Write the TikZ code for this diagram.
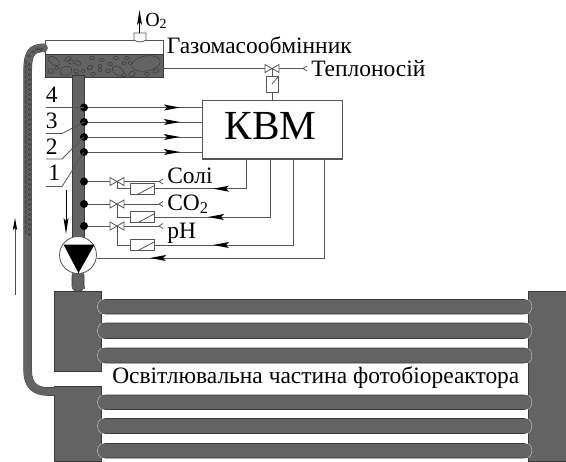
\documentclass[tikz,border=0pt]{standalone}
\usepackage{fontspec}
\setmainfont{Liberation Serif}
\definecolor{pipe}{HTML}{636363}
\definecolor{edge}{HTML}{3A3A3A}
\definecolor{ln}{HTML}{555555}
\tikzset{x=0.75pt,y=-0.75pt,
 thin line/.style={draw=ln,line width=0.6pt},
 sig/.style={draw=ln,line width=0.75pt},
 tube/.style={fill=pipe,draw=edge,line width=0.4pt,rounded corners=6pt},
 dotn/.style={circle,fill=black,inner sep=0,minimum size=6pt},
 lbl/.style={inner sep=0,anchor=base west,font=\fontsize{17.6}{19}\selectfont},
 blob/.style={draw=black!80,line width=0.3pt,fill=pipe}}
\newcommand{\vlv}[2]{\draw[thin line,fill=white] (#1-7,#2-4)--(#1+7,#2+4)--(#1+7,#2-4)--(#1-7,#2+4)--cycle;}
\newcommand{\atail}[2]{\fill[black] (#1,#2) -- (#1+16,#2-3) -- (#1+13,#2) -- (#1+16,#2+3) -- cycle;}
\newcommand{\ahead}[2]{\fill[black] (#1,#2) -- (#1-16,#2-3) -- (#1-13,#2) -- (#1-16,#2+3) -- cycle;}
\newcommand{\actuH}[2]{\draw[thin line,fill=white] (#1,#2-5.5) rectangle (#1+24,#2+5.5); \draw[thin line] (#1+8,#2+5.5) -- (#1+24,#2-3);}
\begin{document}
\begin{tikzpicture}
\useasboundingbox (0,0) rectangle (566,461);
% tubes reactor
\foreach \a/\b in {299.5/314,323/338.5,348/363,395/409.5,418.5/433.5,443.5/458}{
 \draw[tube] (97.5,\a) rectangle (532,\b);}
% tanks
\fill[pipe,draw=edge,line width=0.3pt] (54.5,291) rectangle (101.5,371.5);
\fill[pipe,draw=edge,line width=0.3pt] (54.5,386.5) rectangle (101.5,461.5);
\fill[pipe,draw=edge,line width=0.3pt] (528.5,291) rectangle (566.5,461.5);
\foreach \a/\b in {299.5/314,323/338.5,348/363,395/409.5,418.5/433.5,443.5/458}{
 \fill[pipe] (100,\a+.5) rectangle (104,\b-.5);
 \draw[white!55!pipe,line width=0.4pt] (101.5,\a) .. controls (96,\a+3) and (96,\b-3) .. (101.5,\b);
 \fill[pipe] (526,\a+.5) rectangle (530,\b-.5);
 \draw[white!55!pipe,line width=0.4pt] (528.5,\a) .. controls (533,\a+3) and (533,\b-3) .. (528.5,\b);
}
% exchanger
\draw[draw=ln,line width=0.7pt,fill=white] (45.5,40) rectangle (163,54);
\draw[draw=edge,line width=0.5pt,fill=pipe] (45.5,54) rectangle (163,77);
\foreach \x/\y/\a/\b/\r in {54/61/6.5/3.5/-35,68/59/3.5/2/20,71/62/3/2/-20,78/63/3.5/2/-30,92/58/2.5/1.5/0,102/60/2.5/1.5/0,116/58/2.5/1.5/0,127/58/2.5/1.5/0,146/63.5/14.5/7.5/10,51/71/3.5/2/-30,57/68/2/1.5/0,66/71/6/4.5/25,76/71/2.5/2/0,83/71/2/1.5/0,90/67.5/3/2/30,100/66/2/1.7/0,100/70/2/1.7/0,108/71/2.5/1.7/0,118/71/6.5/4/-35,124/63/2/1.5/0,130/63/2/1.5/0,124/75/2.5/1.5/0,132/74/3.5/2.5/20,147/74/2.5/1.5/0,156/71/3/2/30,110/64/2.5/1.5/0,93/74/2.5/1.5/0,77/75/2/1.5/0}{
 \draw[blob,rotate around={\r:(\x,\y)}] (\x,\y) ellipse[x radius=\a*0.75pt,y radius=\b*0.75pt];}
% left return pipe
\draw[edge,line width=6.4pt,line cap=butt] (45,48) .. controls (30,47) and (27.7,56) .. (27.7,70) -- (27.7,371) .. controls (27.7,385) and (35,391.5) .. (48,391.5) -- (55,391.5);
\draw[pipe,line width=5.9pt,line cap=round] (44,48) .. controls (30,47) and (27.7,56) .. (27.7,70) -- (27.7,371) .. controls (27.7,385) and (35,391.5) .. (48,391.5) -- (55,391.5);
\foreach \y in {62,67,...,236}{
 \draw[blob,line width=0.25pt] (26,\y) ellipse[x radius=1pt,y radius=1.3pt];
 \draw[blob,line width=0.25pt] (29.5,\y+2.5) ellipse[x radius=1pt,y radius=1.1pt];}
\foreach \x/\y in {37/49,41/49.5,33/52,29/56}{\draw[blob,line width=0.25pt] (\x,\y) ellipse[x radius=1.2pt,y radius=1pt];}
% main vertical pipe
\draw[fill=pipe,draw=edge,line width=0.4pt] (72,75) rectangle (84,240);
\draw[fill=pipe,draw=edge,line width=0.4pt,rounded corners=4pt] (72,270) -- (72,291.5) -- (84,291.5) -- (84,270) -- cycle;
\fill[pipe] (71.5,286) rectangle (84.5,289);
% pump
\node[circle,draw=ln,fill=white,line width=0.6pt,minimum size=27.7pt,inner sep=0] (pump) at (78,255) {};
\fill[black] (63.5,244.5) -- (94.5,244.5) -- (78.5,273) -- cycle;
% KVM
\node[draw=ln,line width=0.8pt,fill=white,minimum width=105.3pt,minimum height=44.2pt,inner sep=0] (kvm) at (272.5,129.5) {};
\node[inner sep=0,anchor=base] (kvmt) at (270.5,139) {\fontsize{31}{33}\selectfont КВМ};
% signals to KVM
\foreach \y in {107.5,122,137,152}{
 \draw[sig] (84,\y) -- (202.5,\y);
 \ahead{180}{\y}
 \node[dotn] at (84,\y) {};}
% 1-4 labels
\node[lbl] at (45.5,102) {4};
\node[lbl] at (45.5,128) {3};
\node[lbl] at (45.5,154) {2};
\node[lbl] at (48,180) {1};
\draw[thin line] (46,107.5) -- (84,107.5);
\draw[thin line] (46,133.5) -- (62,133.5) -- (84,122);
\draw[thin line] (46,159) -- (62,159) -- (84,137);
\draw[thin line] (46,186.5) -- (62,186.5) -- (84,152);
% dosing lines
\foreach \y/\b/\r/\xx/\ay in {181.5/188.7/130/246.7/213,204/217/130/270/208,226/245/130/293.7/213}{
 \draw[sig] (84,\y) -- (159,\y);
 \draw[thin line] (159,\y) -- (163,\y-2.5) (159,\y) -- (163,\y+2.5);
 \vlv{117}{\y}
 \draw[thin line] (117,\y) -- (117,\b) -- (130,\b);
 \actuH{130}{\b}
 \draw[sig] (154,\b) -- (\xx,\b) -- (\xx,159);
 \atail{\ay}{\b}
 \node[dotn] at (84,\y) {};}
\draw[sig] (96.5,258) -- (324.7,258) -- (324.7,159);
\atail{150}{258}
% labels
\node[lbl] at (167,183) {Солі};
\node[lbl] at (167,210.5) {CO\textsubscript{2}};
\node[lbl] at (167,238) {pH};
% arrows
\draw[black,line width=0.6pt] (66,190) -- (66,225);
\fill[black] (66,234) -- (63.5,218) -- (66,221) -- (68.5,218) -- cycle;
\draw[black!70,line width=0.5pt] (15,225) -- (15,295);
\fill[black] (15,218) -- (12.8,230) -- (15,228) -- (17.2,230) -- cycle;
% O2
\draw[thin line,fill=white] (134,33) -- (146,33) -- (146,40) .. controls (143,42.5) and (137,42.5) .. (134,40) -- cycle;
\draw[black,line width=0.6pt] (139.5,33) -- (139.5,20);
\fill[black] (139.5,10) -- (137,25) -- (139.5,22) -- (142,25) -- cycle;
\node[lbl,font=\fontsize{15}{16}\selectfont] at (145,26) {O\textsubscript{2}};
\node[lbl] at (166.5,53) {Газомасообмінник};
% heat carrier
\draw[thin line] (163,68.5) -- (303,68.5);
\draw[thin line] (303,68.5) -- (307,66) (303,68.5) -- (307,71);
\vlv{272}{68.5}
\draw[thin line] (272,68.5) -- (272,76);
\draw[thin line,fill=white] (266.5,76) rectangle (278.5,92.5);
\draw[thin line] (272,84) -- (278.5,76.5);
\draw[thin line] (272,92.5) -- (272,100);
\node[lbl] at (311,76.5) {Теплоносій};
% caption
\node[lbl] at (112,383) {Освітлювальна частина фотобіореактора};
\end{tikzpicture}
\end{document}
